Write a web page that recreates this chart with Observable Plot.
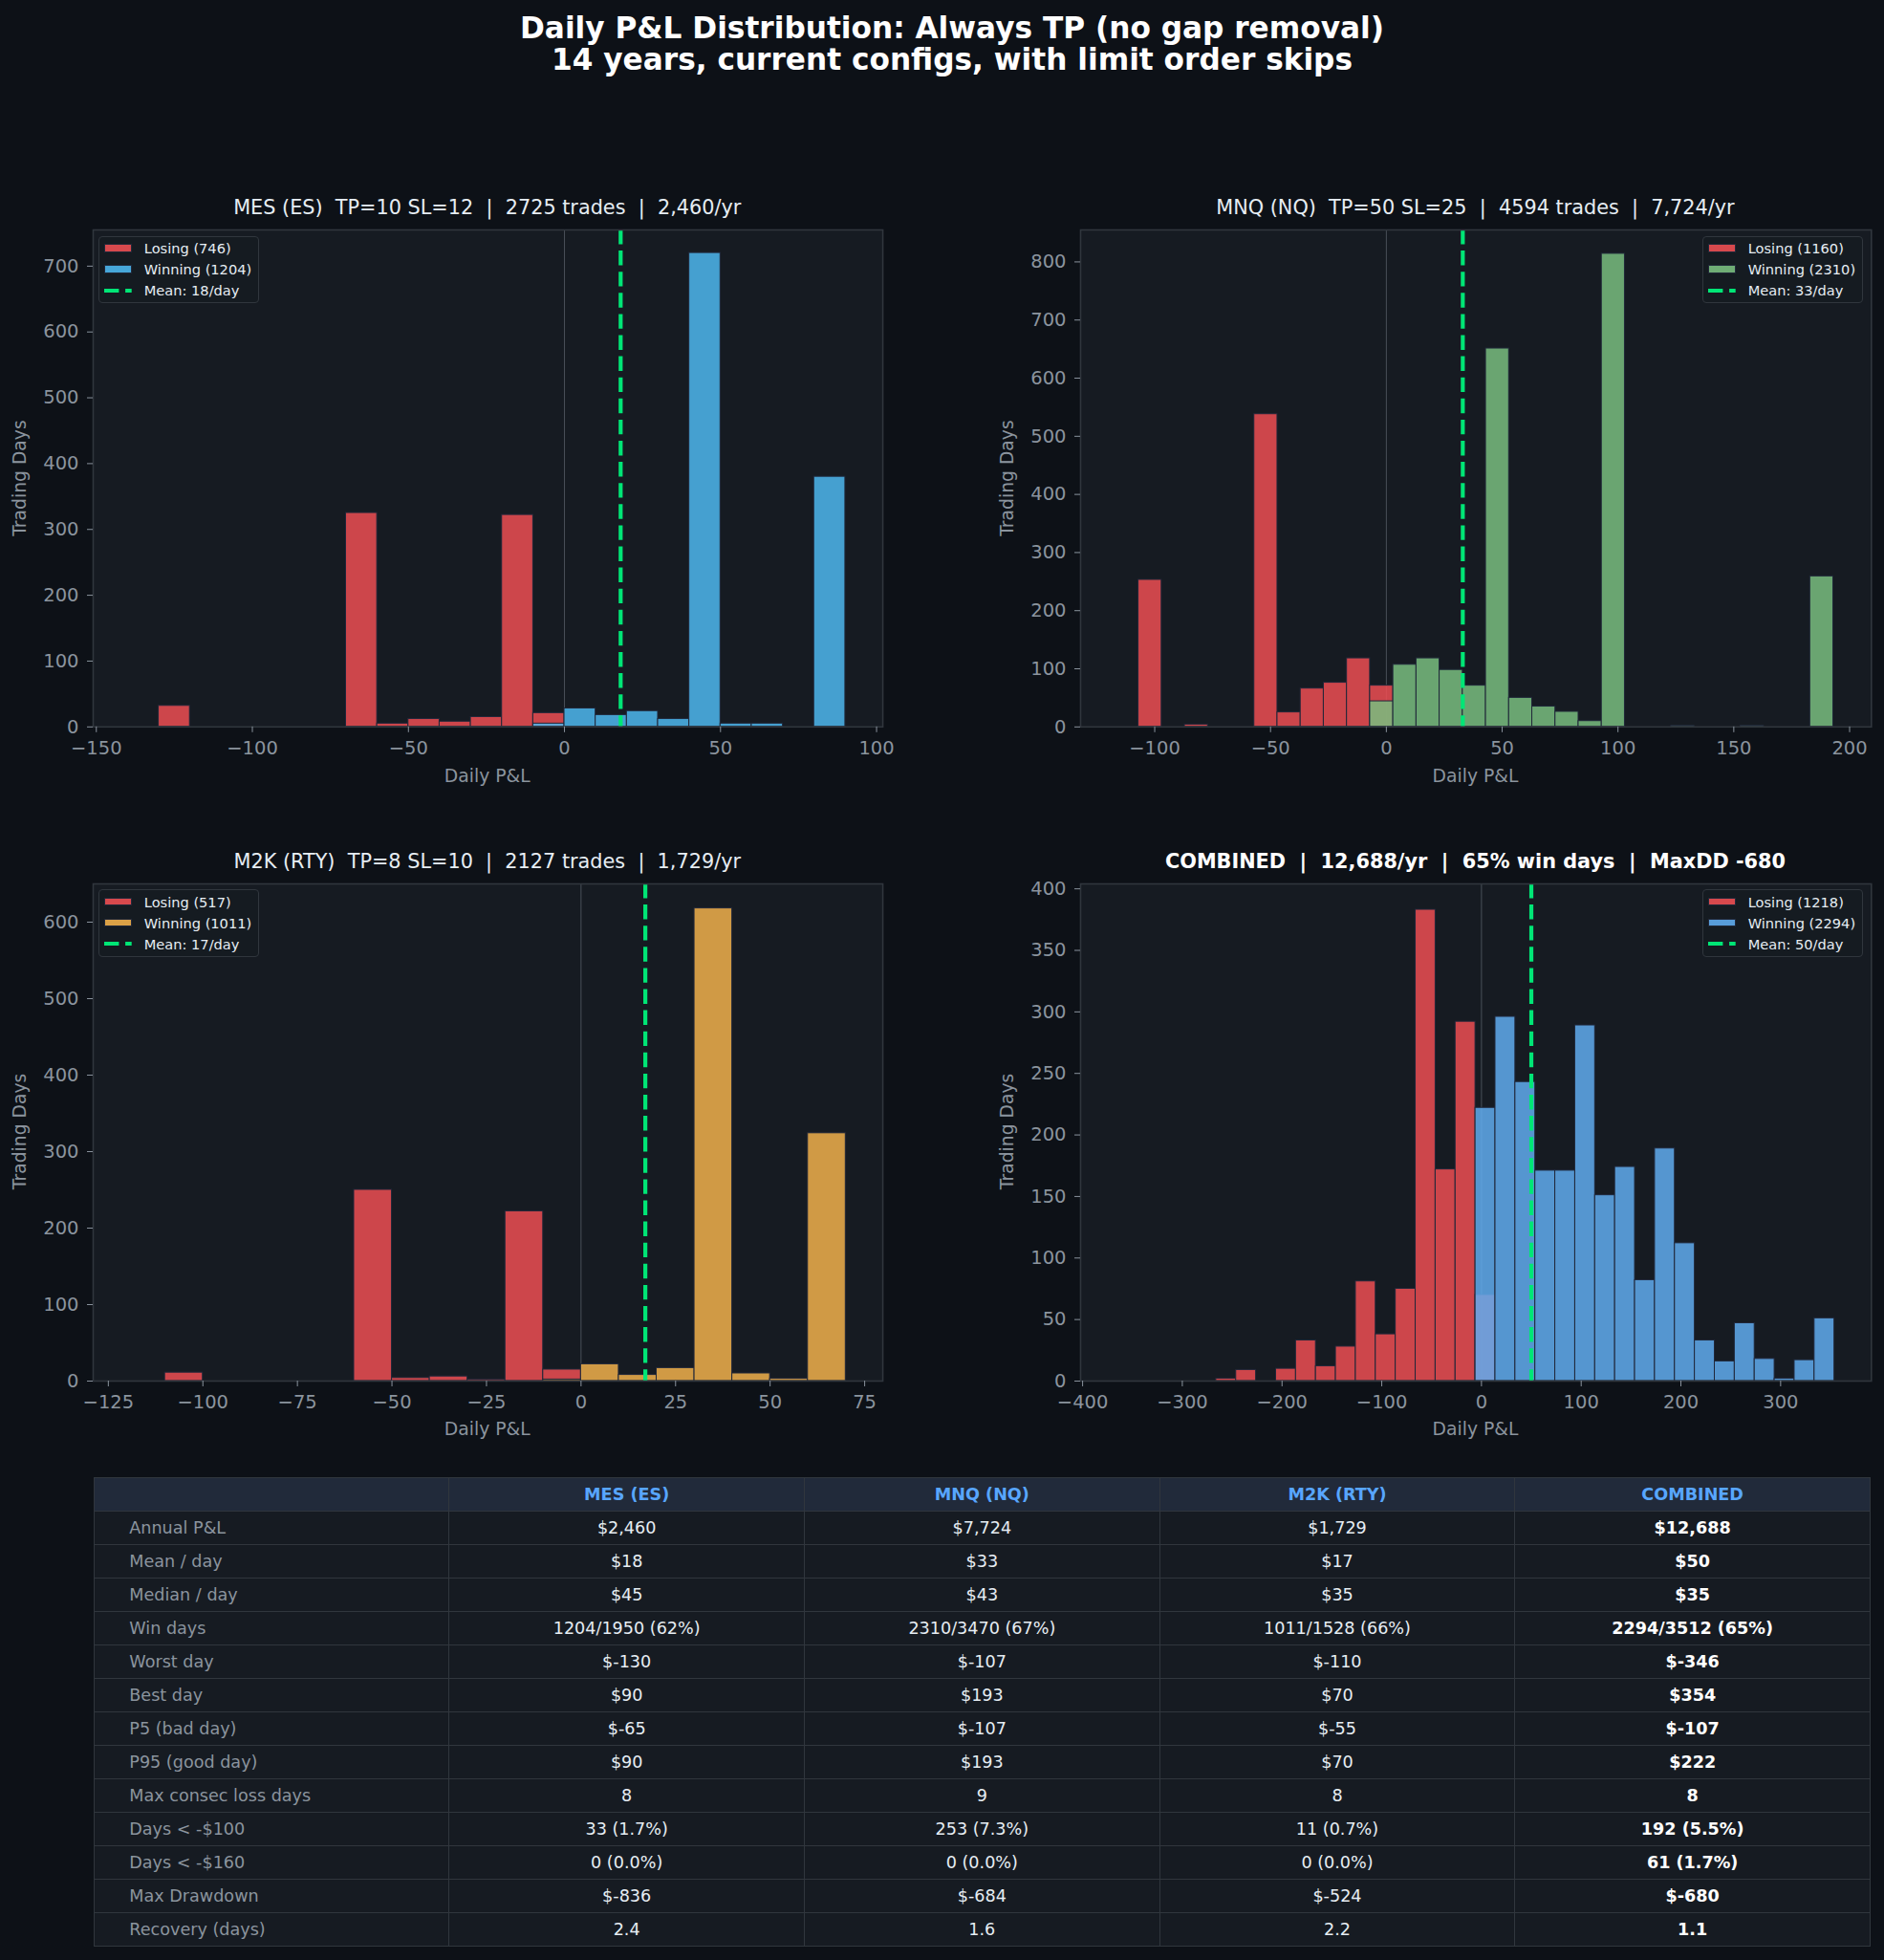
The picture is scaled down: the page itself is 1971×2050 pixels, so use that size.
<!DOCTYPE html>
<html>
<head>
<meta charset="utf-8">
<script src="https://cdn.jsdelivr.net/npm/d3@7"></script>
<script src="https://cdn.jsdelivr.net/npm/@observablehq/plot@0.6"></script>
<style>
  body { margin: 0; background: #0d1117; font-family: "DejaVu Sans", sans-serif; }
  #page { position: relative; width: 1971px; height: 2050px; overflow: hidden; background: #0d1117; }
  .legend {
    position: absolute; box-sizing: border-box;
    border: 1.5px solid #30363d; border-radius: 4px; background: rgba(22,27,34,0.92);
    padding: 1px 7px 1.5px 5.2px; font-size: 14.6px; color: #e6edf3; white-space: pre;
  }
  .legend .row { height: 22px; display: flex; align-items: center; }
  .legend .patch { display: inline-block; width: 28.7px; height: 8.7px; box-sizing: border-box; border: 1px solid #232a3c; margin-right: 12.6px; }
  .legend svg { margin-right: 12.6px; }
  table.stats {
    position: absolute; left: 97.7px; top: 1545px; width: 1859.3px;
    border-collapse: collapse; table-layout: fixed; font-size: 17.6px;
  }
  table.stats td {
    height: 35px; box-sizing: border-box; padding: 0; border: 1.6px solid #30363d;
    background: #161b22; color: #e6edf3; text-align: center; vertical-align: middle; white-space: pre;
  }
  table.stats tr.head td { background: #212a3a; color: #58a6ff; font-weight: bold; }
  table.stats td.label { text-align: left; padding-left: 36.6px; color: #8b949e; }
  table.stats td.total { font-weight: bold; color: #ffffff; }
</style>
</head>
<body>
<div id="page"></div>
<script>
// ---- Histogram counts (bin lower edges + counts) ----
// MES: $10 bins
const mesLossBins = [-130, -70, -60, -50, -40, -30, -20, -10];
const mesLoss     = [32, 325, 5, 12, 8, 15, 322, 21];
const mesWinBins  = [-10, 0, 10, 20, 30, 40, 50, 60, 80];
const mesWin      = [5, 28, 18, 24, 12, 720, 5, 5, 380];

// MNQ: $10 bins starting at the worst day (-107)
const mnqLossBins = [-107, -87, -57, -47, -37, -27, -17, -7];
const mnqLoss     = [253, 4, 538, 25, 66, 76, 118, 71];
const mnqWinBins  = [-7, 3, 13, 23, 33, 43, 53, 63, 73, 83, 93, 123, 153, 183];
const mnqWin      = [44, 107, 118, 98, 71, 651, 50, 35, 26, 10, 814, 2, 2, 259];

// M2K: $10 bins
const m2kLossBins = [-110, -60, -50, -40, -30, -20, -10];
const m2kLoss     = [11, 250, 4, 6, 2, 222, 15];
const m2kWinBins  = [-10, 0, 10, 20, 30, 40, 50, 60];
const m2kWin      = [2, 22, 8, 17, 618, 10, 3, 324];

// Combined: $20 bins
const allLossBins = [-266, -246, -206, -186, -166, -146, -126, -106, -86, -66, -46, -26, -6];
const allLoss     = [2, 9, 10, 33, 12, 28, 81, 38, 75, 383, 172, 292, 70];
const allWinBins  = [-6, 14, 34, 54, 74, 94, 114, 134, 154, 174, 194, 214, 234, 254, 274, 294, 314, 334];
const allWin      = [222, 296, 243, 171, 171, 289, 151, 174, 82, 189, 112, 33, 16, 47, 18, 2, 17, 51];

// Per-instrument summary
const panelTitles = [
  "MES (ES)  TP=10 SL=12  |  2725 trades  |  2,460/yr",
  "MNQ (NQ)  TP=50 SL=25  |  4594 trades  |  7,724/yr",
  "M2K (RTY)  TP=8 SL=10  |  2127 trades  |  1,729/yr",
  "COMBINED  |  12,688/yr  |  65% win days  |  MaxDD -680"
];
const meanPerDay  = [18, 33, 17, 50];
const lossDays    = [746, 1160, 517, 1218];
const winDays     = [1204, 2310, 1011, 2294];

// ---- Stats table ----
const colHeads  = ["MES (ES)", "MNQ (NQ)", "M2K (RTY)", "COMBINED"];
const rowLabels = ["Annual P&L", "Mean / day", "Median / day", "Win days", "Worst day", "Best day",
                   "P5 (bad day)", "P95 (good day)", "Max consec loss days", "Days < -$100",
                   "Days < -$160", "Max Drawdown", "Recovery (days)"];
const mesCol = ["$2,460", "$18", "$45", "1204/1950 (62%)", "$-130", "$90", "$-65", "$90", "8", "33 (1.7%)", "0 (0.0%)", "$-836", "2.4"];
const mnqCol = ["$7,724", "$33", "$43", "2310/3470 (67%)", "$-107", "$193", "$-107", "$193", "9", "253 (7.3%)", "0 (0.0%)", "$-684", "1.6"];
const m2kCol = ["$1,729", "$17", "$35", "1011/1528 (66%)", "$-110", "$70", "$-55", "$70", "8", "11 (0.7%)", "0 (0.0%)", "$-524", "2.2"];
const allCol = ["$12,688", "$50", "$35", "2294/3512 (65%)", "$-346", "$354", "$-107", "$222", "8", "192 (5.5%)", "61 (1.7%)", "$-680", "1.1"];

// ---- Styling ----
const BG = "#0d1117", PANEL = "#161b22", GRID = "#30363d", MUTED = "#8b949e", TEXT = "#e6edf3";
const RED = "#ed4e52", EDGE = "#202739", MEAN = "#00e676";

const panels = [
  { title: panelTitles[0], bold: false, lossBins: mesLossBins, loss: mesLoss, winBins: mesWinBins, win: mesWin, bw: 10,
    color: "#4db7ee", mean: meanPerDay[0], nl: lossDays[0], nw: winDays[0],
    frame: [96.7, 240.2, 922.8, 760], xDomain: [-151, 102], yDomain: [0, 755],
    xTicks: d3.range(-150, 101, 50), yTicks: d3.range(0, 701, 100), legendSide: "left" },
  { title: panelTitles[1], bold: false, lossBins: mnqLossBins, loss: mnqLoss, winBins: mnqWinBins, win: mnqWin, bw: 10,
    color: "#79bd7f", mean: meanPerDay[1], nl: lossDays[1], nw: winDays[1],
    frame: [1129.8, 240.2, 1957.1, 760], xDomain: [-132, 209.4], yDomain: [0, 855],
    xTicks: d3.range(-100, 201, 50), yTicks: d3.range(0, 801, 100), legendSide: "right" },
  { title: panelTitles[2], bold: false, lossBins: m2kLossBins, loss: m2kLoss, winBins: m2kWinBins, win: m2kWin, bw: 10,
    color: "#f1b04b", mean: meanPerDay[2], nl: lossDays[2], nw: winDays[2],
    frame: [96.7, 923.5, 922.8, 1443.5], xDomain: [-129, 79.8], yDomain: [0, 650],
    xTicks: d3.range(-125, 76, 25), yTicks: d3.range(0, 601, 100), legendSide: "left" },
  { title: panelTitles[3], bold: true, lossBins: allLossBins, loss: allLoss, winBins: allWinBins, win: allWin, bw: 20,
    color: "#60acee", mean: meanPerDay[3], nl: lossDays[3], nw: winDays[3],
    frame: [1129.8, 923.5, 1957.1, 1443.5], xDomain: [-402, 391], yDomain: [0, 404],
    xTicks: d3.range(-400, 301, 100), yTicks: d3.range(0, 401, 50), legendSide: "right" }
];

const page = document.getElementById("page");

function drawPanel(p) {
  const [x0, y0, x1, y1] = p.frame;
  const ml = 90, mr = 14, mt = 20, mb = 60;
  const toRects = (bins, counts) => bins.map((b, i) => ({ x1: b, x2: b + p.bw, y1: 0, y2: counts[i] }));
  const lossRects = toRects(p.lossBins, p.loss);
  const winRects = toRects(p.winBins, p.win);

  const chart = Plot.plot({
    width: (x1 - x0) + ml + mr,
    height: (y1 - y0) + mt + mb,
    marginLeft: ml, marginRight: mr, marginTop: mt, marginBottom: mb,
    style: { background: "transparent", color: MUTED, fontSize: "19.5px", fontFamily: "DejaVu Sans" },
    x: { domain: p.xDomain },
    y: { domain: p.yDomain },
    marks: [
      Plot.frame({ fill: PANEL }),
      Plot.ruleX([0], { stroke: MUTED, strokeOpacity: 0.45, strokeWidth: 1 }),
      Plot.rect(lossRects, { x1: "x1", x2: "x2", y1: "y1", y2: "y2", fill: RED, fillOpacity: 0.85, stroke: EDGE, strokeWidth: 1 }),
      Plot.rect(winRects, { x1: "x1", x2: "x2", y1: "y1", y2: "y2", fill: p.color, fillOpacity: 0.85, stroke: EDGE, strokeWidth: 1 }),
      Plot.ruleX([p.mean], { stroke: MEAN, strokeWidth: 4.2, strokeDasharray: "15.4,6.7" }),
      Plot.frame({ stroke: GRID, strokeWidth: 1.6 }),
      Plot.axisX(p.xTicks, { tickSize: 6, tickPadding: 9, label: null }),
      Plot.axisY(p.yTicks, { tickSize: 6, tickPadding: 9, label: null })
    ]
  });
  chart.style.position = "absolute";
  chart.style.left = (x0 - ml) + "px";
  chart.style.top = (y0 - mt) + "px";
  page.appendChild(chart);

  // legend
  const lg = document.createElement("div");
  lg.className = "legend";
  lg.style.top = (y0 + 6.5) + "px";
  if (p.legendSide === "left") lg.style.left = (x0 + 6.6) + "px";
  else lg.style.right = (1971 - x1 + 8) + "px";
  const rows = [
    { kind: "patch", color: RED, text: `Losing (${p.nl})` },
    { kind: "patch", color: p.color, text: `Winning (${p.nw})` },
    { kind: "dash", color: MEAN, text: `Mean: ${p.mean}/day` }
  ];
  for (const r of rows) {
    const row = document.createElement("div");
    row.className = "row";
    if (r.kind === "patch") {
      const s = document.createElement("span");
      s.className = "patch";
      s.style.background = r.color;
      s.style.opacity = 0.9;
      row.appendChild(s);
    } else {
      const ns = "http://www.w3.org/2000/svg";
      const sv = document.createElementNS(ns, "svg");
      sv.setAttribute("width", "28.7"); sv.setAttribute("height", "8");
      const ln = document.createElementNS(ns, "line");
      ln.setAttribute("x1", 0); ln.setAttribute("x2", 28.7); ln.setAttribute("y1", 4); ln.setAttribute("y2", 4);
      ln.setAttribute("stroke", r.color); ln.setAttribute("stroke-width", 4.2);
      ln.setAttribute("stroke-dasharray", "15.4,6.7");
      sv.appendChild(ln);
      row.appendChild(sv);
    }
    const t = document.createElement("span");
    t.textContent = r.text;
    row.appendChild(t);
    lg.appendChild(row);
  }
  page.appendChild(lg);
}

panels.forEach(drawPanel);

// ---- Text layer: figure title, panel titles, axis labels ----
const overlay = d3.select(page).append("svg")
  .attr("width", 1971).attr("height", 2050)
  .style("position", "absolute").style("left", 0).style("top", 0)
  .style("pointer-events", "none")
  .style("font-family", "DejaVu Sans");

overlay.append("text").attr("x", 996).attr("y", 39.5).attr("text-anchor", "middle")
  .attr("fill", "#ffffff").attr("font-size", 31.2).attr("font-weight", "bold")
  .text("Daily P&L Distribution: Always TP (no gap removal)");
overlay.append("text").attr("x", 996).attr("y", 72.5).attr("text-anchor", "middle")
  .attr("fill", "#ffffff").attr("font-size", 31.2).attr("font-weight", "bold")
  .text("14 years, current configs, with limit order skips");

for (const p of panels) {
  const [x0, y0, x1, y1] = p.frame;
  const cx = (x0 + x1) / 2, cy = (y0 + y1) / 2;
  overlay.append("text").attr("x", cx).attr("y", y0 - 16).attr("text-anchor", "middle")
    .attr("fill", p.bold ? "#ffffff" : TEXT).attr("font-size", 20.8)
    .attr("font-weight", p.bold ? "bold" : "normal").style("white-space", "pre")
    .text(p.title);
  overlay.append("text").attr("x", cx).attr("y", y1 + 57.6).attr("text-anchor", "middle")
    .attr("fill", MUTED).attr("font-size", 18.75).text("Daily P&L");
  overlay.append("text").attr("transform", `translate(${x0 - 69.5},${cy}) rotate(-90)`)
    .attr("text-anchor", "middle").attr("fill", MUTED).attr("font-size", 18.75).text("Trading Days");
}

// ---- Summary table ----
const table = d3.select(page).append("table").attr("class", "stats");
const head = table.append("tr").attr("class", "head");
head.append("td").attr("class", "label").text("");
colHeads.forEach(h => head.append("td").text(h));
const cols = [mesCol, mnqCol, m2kCol, allCol];
rowLabels.forEach((lab, i) => {
  const tr = table.append("tr");
  tr.append("td").attr("class", "label").text(lab);
  cols.forEach((c, j) => tr.append("td").attr("class", j === 3 ? "total" : null).text(c[i]));
});
</script>
</body>
</html>
